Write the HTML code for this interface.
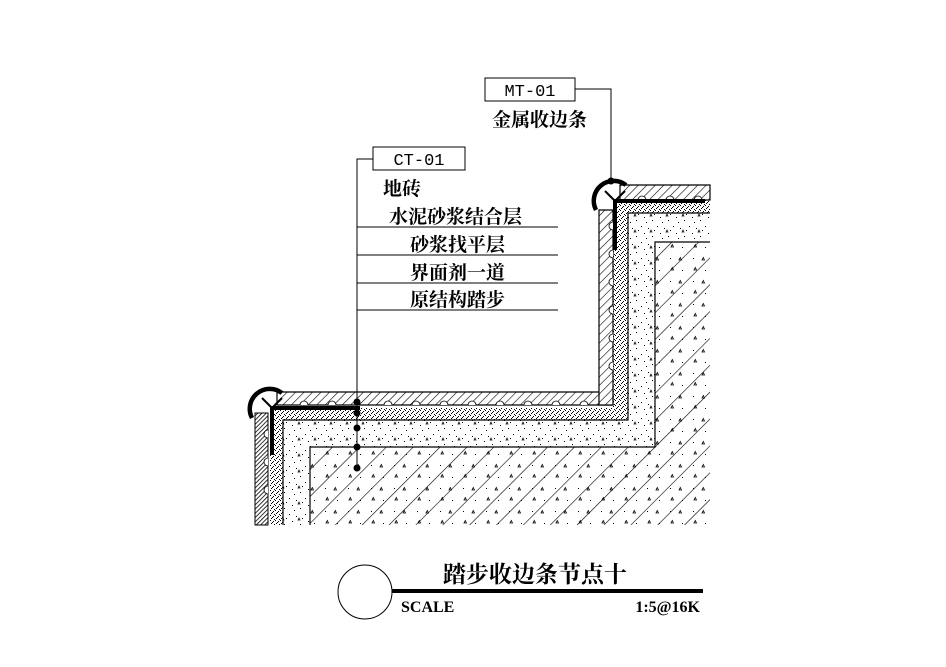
<!DOCTYPE html>
<html><head><meta charset="utf-8"><style>
html,body{margin:0;padding:0;background:#fff;}
svg{display:block;}
text{font-family:"Liberation Mono","Noto Serif CJK SC",monospace;fill:#000;}
.cn{font-family:"Liberation Serif","Noto Serif CJK SC",serif;font-weight:bold;}
</style></head><body>
<svg width="946" height="667" viewBox="0 0 946 667" xmlns="http://www.w3.org/2000/svg">
<defs>
<pattern id="hatchS" width="6" height="6" patternUnits="userSpaceOnUse" patternTransform="rotate(45)">
<rect width="6" height="6" fill="#fff"/><line x1="0" y1="0" x2="0" y2="6" stroke="#000" stroke-width="1.2"/></pattern>
<pattern id="hatchD" width="3" height="3" patternUnits="userSpaceOnUse" patternTransform="rotate(45)">
<rect width="3" height="3" fill="#fff"/><line x1="0" y1="0" x2="0" y2="3" stroke="#000" stroke-width="1.6"/></pattern>
<pattern id="fine" width="5" height="5" patternUnits="userSpaceOnUse">
<rect width="5" height="5" fill="#fff"/>
<rect x="0" y="0" width="1" height="1" fill="#000"/><rect x="3" y="1" width="1" height="1" fill="#000"/>
<rect x="1" y="3" width="1" height="1" fill="#000"/><rect x="4" y="4" width="1" height="1" fill="#000"/>
<rect x="2" y="2" width="1" height="1" fill="#000"/></pattern>
<pattern id="coarse" width="16" height="16" patternUnits="userSpaceOnUse">
<rect width="16" height="16" fill="#fff"/>
<rect x="1" y="2" width="1" height="1" fill="#000"/><rect x="8" y="4" width="1" height="1" fill="#000"/>
<rect x="4" y="9" width="1" height="1" fill="#000"/><rect x="12" y="12" width="1" height="1" fill="#000"/>
<rect x="6" y="14" width="1" height="1" fill="#000"/><rect x="14" y="6" width="1" height="1" fill="#000"/>
<path d="M10 8l2 0l-1 -2z" fill="none" stroke="#000" stroke-width="0.7"/></pattern>
<pattern id="diag" width="19" height="19" patternUnits="userSpaceOnUse" patternTransform="rotate(45)">
<rect width="19" height="19" fill="#fff"/><line x1="0" y1="0" x2="0" y2="19" stroke="#000" stroke-width="1.2"/></pattern>
<pattern id="spk" width="23" height="23" patternUnits="userSpaceOnUse">
<rect x="3" y="5" width="1" height="1" fill="#000"/><rect x="15" y="17" width="1" height="1" fill="#000"/>
<path d="M12 7l2.5 0l-1.2 -2.5z M4 17l2.5 0l-1.2 -2.5z" fill="none" stroke="#000" stroke-width="0.8"/></pattern>
</defs>

<!-- concrete base -->
<path d="M310 525 V447 H655 V242 H710 V525 Z" fill="url(#diag)"/>
<path d="M310 525 V447 H655 V242 H710 V525 Z" fill="url(#spk)"/>
<!-- coarse mortar -->
<path d="M283 525 V420 H628 V213 H710 V242 H655 V447 H310 V525 Z" fill="url(#coarse)"/>
<!-- fine mortar -->
<path d="M270 525 V408 H613 V200 H710 V213 H628 V420 H283 V525 Z" fill="url(#fine)"/>
<path d="M310 525 V447 H655 V242 H710" fill="none" stroke="#000" stroke-width="1.2"/>
<path d="M283 525 V420 H628 V213 H710" fill="none" stroke="#000" stroke-width="1.2"/>
<!-- tiles -->
<path d="M277 392 H613 V405 H277 Z" fill="url(#hatchS)" stroke="#000" stroke-width="1.2"/>
<path d="M599 210 H613 V405 H599 Z" fill="url(#hatchS)" stroke="#000" stroke-width="1.2"/>
<path d="M620 185 H710 V200 H620 Z" fill="url(#hatchS)" stroke="#000" stroke-width="1.2"/>
<path d="M255 413 H268 V525 H255 Z" fill="url(#hatchD)" stroke="#000" stroke-width="1"/>
<g fill="#fff" stroke="#000" stroke-width="0.8">
<path d="M300 405a4 4 0 0 1 8 0M328 405a4 4 0 0 1 8 0M384 405a4 4 0 0 1 8 0M412 405a4 4 0 0 1 8 0M440 405a4 4 0 0 1 8 0M468 405a4 4 0 0 1 8 0M496 405a4 4 0 0 1 8 0M524 405a4 4 0 0 1 8 0M552 405a4 4 0 0 1 8 0M580 405a4 4 0 0 1 8 0"/>
<path d="M613 222a4 4 0 0 0 0 8M613 250a4 4 0 0 0 0 8M613 278a4 4 0 0 0 0 8M613 306a4 4 0 0 0 0 8M613 334a4 4 0 0 0 0 8M613 362a4 4 0 0 0 0 8"/>
<path d="M638 200a4 4 0 0 1 8 0M666 200a4 4 0 0 1 8 0M694 200a4 4 0 0 1 8 0"/>
<path d="M268 430a4 4 0 0 0 0 8M268 458a4 4 0 0 0 0 8M268 486a4 4 0 0 0 0 8"/>
</g>
<!-- metal trims -->
<g fill="none" stroke="#000" stroke-width="4">
<path d="M360 408 H272 V455"/>
<path d="M705 201 H615 V250"/>
<path d="M252 418 A20 20 0 0 1 282 393" stroke-width="4.5"/>
<path d="M596 210 A20 20 0 0 1 626 185" stroke-width="4.5"/>
</g>
<path d="M272 408 L262 398 M272 408 L282 398" stroke="#000" stroke-width="2"/>
<path d="M615 201 L605 191 M615 201 L625 191" stroke="#000" stroke-width="2"/>

<!-- leaders -->
<g fill="none" stroke="#000" stroke-width="1">
<rect x="485" y="78" width="90" height="23"/>
<path d="M575 89 H611 V180"/>
<rect x="373" y="147" width="92" height="23"/>
<path d="M373 159 H357 V470"/>
<path d="M357 227 H558 M357 255 H558 M357 283 H558 M357 310 H558"/>
</g>
<g fill="#000">
<circle cx="611" cy="181" r="3.5"/>
<circle cx="357" cy="402" r="3.5"/><circle cx="357" cy="413" r="3.5"/>
<circle cx="357" cy="428" r="3.5"/><circle cx="357" cy="447" r="3.5"/><circle cx="357" cy="468" r="3.5"/>
</g>
<text x="530" y="96" font-size="17" text-anchor="middle">MT-01</text>
<text x="419" y="165" font-size="17" text-anchor="middle">CT-01</text>
<text class="cn" x="492" y="126" font-size="19">金属收边条</text>
<text class="cn" x="383" y="195" font-size="19">地砖</text>
<text class="cn" x="389" y="223" font-size="19">水泥砂浆结合层</text>
<text class="cn" x="410" y="251" font-size="19">砂浆找平层</text>
<text class="cn" x="410" y="279" font-size="19">界面剂一道</text>
<text class="cn" x="410" y="306" font-size="19">原结构踏步</text>

<!-- title -->
<circle cx="365" cy="592" r="27" fill="#fff" stroke="#000" stroke-width="1"/>
<rect x="392" y="589" width="311" height="4" fill="#000"/>
<text class="cn" x="443" y="582" font-size="23">踏步收边条节点十</text>
<text class="cn" x="401" y="612" font-size="16">SCALE</text>
<text class="cn" x="700" y="612" font-size="16" text-anchor="end">1:5@16K</text>
</svg>
</body></html>
